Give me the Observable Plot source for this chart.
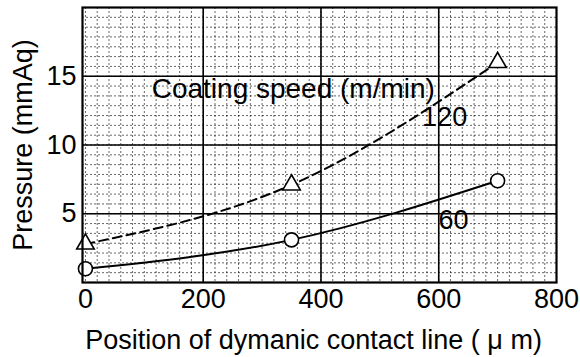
<!DOCTYPE html>
<html>
<head>
<meta charset="utf-8">
<script src="https://cdn.jsdelivr.net/npm/d3@7"></script>
<script src="https://cdn.jsdelivr.net/npm/@observablehq/plot@0.6"></script>
<style>
  html, body { margin: 0; padding: 0; background: #fff; }
  svg { font-family: "Liberation Sans", Arial, sans-serif; }
</style>
</head>
<body>
<div id="chart"></div>
<script>
// Data
const position = [0, 350, 700];              // µm
const pressure120 = [2.8, 7.1, 16.0];        // mmAq, coating speed 120 m/min
const pressure60 = [1.0, 3.1, 7.4];          // mmAq, coating speed 60 m/min

const xTicks = [0, 200, 400, 600, 800];
const yTicks = [5, 10, 15];
const majorX = [200, 400, 600];
const majorY = [5, 10, 15];
const minorX = d3.range(0, 801, 20);
const minorY = d3.range(0, 20.01, 5 / 7);

const xTitle = "Position of dymanic contact line ( μ m)";
const yTitle = "Pressure (mmAq)";

const labels = [
  {x: 353, y: 14.1, text: "Coating speed (m/min)", size: 28},
  {x: 610, y: 12.0, text: "120", size: 27},
  {x: 625, y: 4.5, text: "60", size: 27}
];

const s120 = position.map((x, i) => ({x, y: pressure120[i]}));
const s60 = position.map((x, i) => ({x, y: pressure60[i]}));

const chart = Plot.plot({
  width: 580,
  height: 357,
  marginLeft: 82,
  marginRight: 24,
  marginTop: 7,
  marginBottom: 75,
  style: {fontFamily: "Liberation Sans, Arial, sans-serif", fontSize: "26px", color: "#000", background: "#fff"},
  x: {domain: [-5, 800], ticks: xTicks},
  y: {domain: [0, 20], ticks: yTicks},
  marks: [
    Plot.ruleX(minorX, {stroke: "#000", strokeOpacity: 0.6, strokeWidth: 1, strokeDasharray: "2,2"}),
    Plot.ruleY(minorY, {stroke: "#000", strokeOpacity: 0.6, strokeWidth: 1, strokeDasharray: "2,2"}),
    Plot.ruleX(majorX, {stroke: "#000", strokeWidth: 1.6}),
    Plot.ruleY(majorY, {stroke: "#000", strokeWidth: 1.4}),
    Plot.axisX({ticks: xTicks, tickSize: 0, tickPadding: 6, fontSize: 27, label: null}),
    Plot.axisY({ticks: yTicks, tickSize: 0, tickPadding: 6, fontSize: 27,
      label: yTitle, labelAnchor: "center", labelArrow: "none", labelOffset: 70}),
    Plot.text([xTitle], {frameAnchor: "bottom", dy: 66, dx: -6, fontSize: 27, fill: "#000", textAnchor: "middle", lineAnchor: "bottom"}),
    Plot.text(labels, {x: "x", y: "y", text: "text", fontSize: (d) => d.size, fill: "#000", textAnchor: "middle", lineAnchor: "middle"}),
    Plot.line(s120, {x: "x", y: "y", curve: "natural", stroke: "#000", strokeWidth: 2, strokeDasharray: "9,5"}),
    Plot.line(s60, {x: "x", y: "y", curve: "natural", stroke: "#000", strokeWidth: 2}),
    Plot.dot(s120, {x: "x", y: "y", symbol: "triangle", r: 6.5, fill: "#fff", stroke: "#000", strokeWidth: 1.6}),
    Plot.dot(s60, {x: "x", y: "y", symbol: "circle", r: 7, fill: "#fff", stroke: "#000", strokeWidth: 1.6}),
    Plot.frame({stroke: "#000", strokeWidth: 2.2})
  ]
});
document.getElementById("chart").append(chart);
</script>
</body>
</html>
